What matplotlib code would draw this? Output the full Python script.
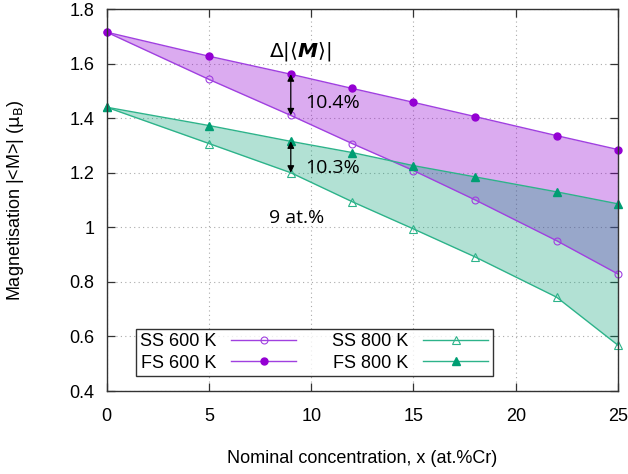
import numpy as np
import matplotlib
matplotlib.use('Agg')
from matplotlib import pyplot as plt

# nominal Cr concentration (at.%)
conc = [0, 5, 9, 12, 15, 18, 22, 25]

# magnetisation |<M>| (mu_B)
ss_600 = [1.715, 1.542, 1.410, 1.307, 1.208, 1.101, 0.951, 0.829]
fs_600 = [1.715, 1.627, 1.561, 1.509, 1.458, 1.406, 1.336, 1.285]
ss_800 = [1.440, 1.307, 1.200, 1.094, 0.994, 0.892, 0.744, 0.568]
fs_800 = [1.440, 1.373, 1.315, 1.274, 1.226, 1.185, 1.130, 1.086]

violet = '#9400D3'
violet_line = '#A040E0'
green = '#009E73'
green_line = '#2DB38A'

plt.rcParams['font.family'] = ['Liberation Sans', 'DejaVu Sans']

fig = plt.figure(figsize=(6.28, 4.74), dpi=100)
ax = fig.add_axes([0.170, 0.175, 0.814, 0.806])

ax.fill_between(conc, ss_600, fs_600, color=violet, alpha=0.33, linewidth=0)
ax.fill_between(conc, ss_800, fs_800, color=green, alpha=0.30, linewidth=0)

ax.plot(conc, ss_600, color=violet_line, lw=1.0, marker='o', ms=5,
        mfc='none', mec=violet_line, mew=0.8, label='SS 600 K', clip_on=False)
ax.plot(conc, fs_600, color=violet_line, lw=1.0, marker='o', ms=5,
        mfc=violet, mec=violet, label='FS 600 K', clip_on=False)
ax.plot(conc, ss_800, color=green_line, lw=1.0, marker='^', ms=6,
        mfc='none', mec=green_line, mew=0.8, label='SS 800 K', clip_on=False)
ax.plot(conc, fs_800, color=green_line, lw=1.0, marker='^', ms=6,
        mfc=green, mec=green, label='FS 800 K', clip_on=False)

# difference arrows at 9 at.%
i9 = conc.index(9)
for lo, hi in ((ss_600, fs_600), (ss_800, fs_800)):
    ax.annotate('', xy=(9, lo[i9]), xytext=(9, hi[i9]),
                arrowprops=dict(arrowstyle='<|-|>', color='black', lw=0.9,
                                mutation_scale=10, shrinkA=0, shrinkB=0))

txt = dict(family=['Open Sans', 'DejaVu Sans'], fontsize=14, color='black')
ax.text(7.95, 1.645, r'$\Delta|\langle \mathbfit{M} \rangle|$', fontsize=14.5, va='center')
ax.text(9.7, 1.457, '10.4%', va='center', **txt)
ax.text(9.7, 1.218, '10.3%', va='center', **txt)
ax.text(7.95, 1.034, '9 at.%', va='center', **txt)

ax.set_xlim(0, 25)
ax.set_ylim(0.4, 1.8)
ax.set_xticks(np.arange(0, 26, 5))
ax.set_yticks(np.arange(0.4, 1.81, 0.2))
ax.set_yticklabels(['0.4', '0.6', '0.8', '1', '1.2', '1.4', '1.6', '1.8'])
ax.tick_params(direction='in', length=6, width=0.9, top=True, right=True,
               labelsize=13, color='#333333')
ax.tick_params(axis='x', pad=12)
ax.tick_params(axis='y', pad=9)
ax.grid(True, linestyle=(0, (1, 3)), color='#aaaaaa', lw=0.8)
ax.set_axisbelow(True)
for s in ax.spines.values():
    s.set_color('#333333')
    s.set_linewidth(1.0)

ax.set_xlabel('Nominal concentration, x (at.%Cr)', fontsize=13)
ax.set_ylabel(r'Magnetisation |<M>| ($\mathrm{\mu_B}$)', fontsize=13)
ax.xaxis.set_label_coords(0.5, -0.155)
ax.yaxis.set_label_coords(-0.158, 0.5)

leg = ax.legend(loc='lower left', bbox_to_anchor=(0.057, 0.039), ncol=2,
                markerfirst=False, fontsize=13, frameon=True, fancybox=False,
                edgecolor='black', handlelength=3.6, columnspacing=2.0,
                borderpad=0.25, labelspacing=0.25, borderaxespad=0)
leg.get_frame().set_linewidth(1.0)

fig.savefig('out.png', dpi=100)
